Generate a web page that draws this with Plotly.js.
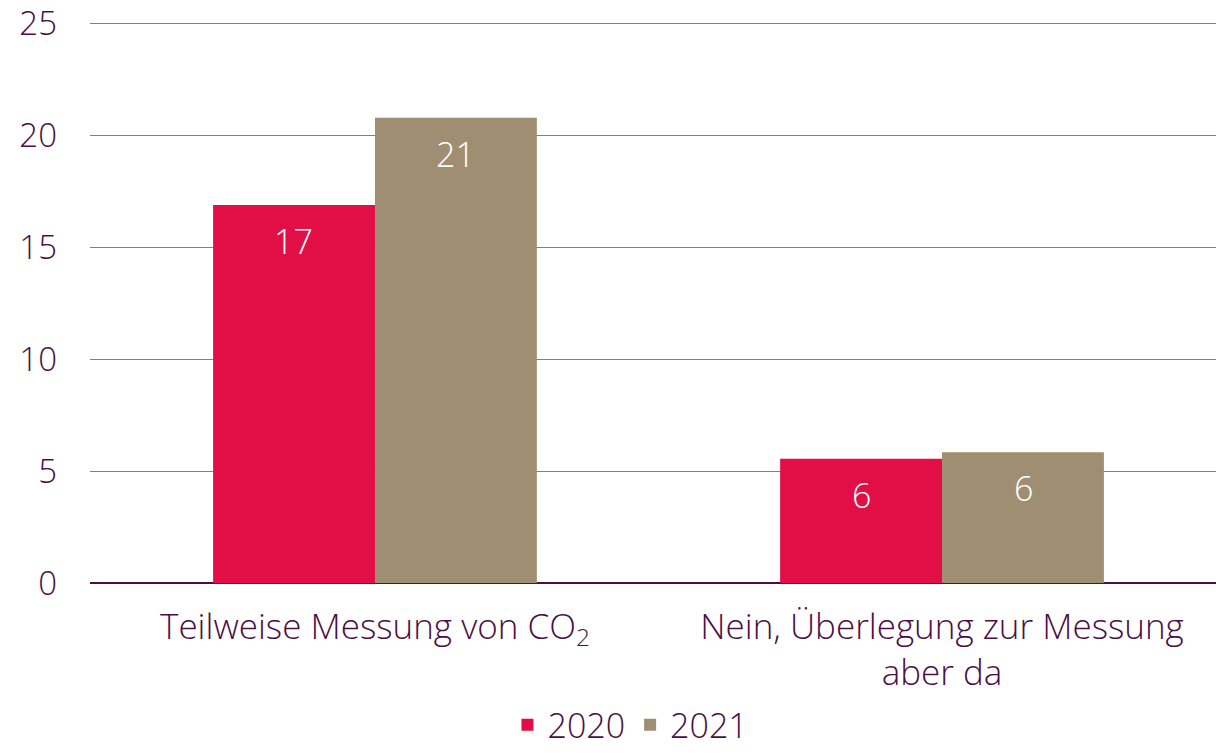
<!DOCTYPE html>
<html><head><meta charset="utf-8">
<script src="https://cdn.plot.ly/plotly-3.0.1.min.js"></script>
<style>html,body{margin:0;padding:0;background:#fff}#c{width:1216px;height:755px}</style>
</head><body><div id="c"></div>
<script>
const categories = ["Teilweise Messung von CO<sub>2</sub>", "Nein, Überlegung zur Messung<br>aber da"];
const series2020 = [16.9, 5.55];
const series2021 = [20.8, 5.85];
const labels2020 = ["17", "6"];
const labels2021 = ["21", "6"];
const seriesNames = ["2020", "2021"];
const yTicks = [0, 5, 10, 15, 20, 25];

const textColor = "#4B0F45";
const font = "'Open Sans', 'Noto Sans', sans-serif";

const traces = [
  {type: "bar", name: seriesNames[0], x: categories, y: series2020, marker: {color: "#E10F45"}, hoverinfo: "none"},
  {type: "bar", name: seriesNames[1], x: categories, y: series2021, marker: {color: "#A08E72"}, hoverinfo: "none"}
];

const annotations = [];
[[series2020, labels2020, -81], [series2021, labels2021, 81]].forEach(([vals, labs, shift]) => {
  vals.forEach((v, i) => annotations.push({
    x: categories[i], y: v, xref: "x", yref: "y", text: labs[i], showarrow: false,
    xshift: shift, yshift: -36, font: {color: "#ffffff", size: 34, family: font, weight: 300}
  }));
});

const layout = {
  width: 1216, height: 755,
  margin: {l: 90, r: 0, t: 17, b: 172, autoexpand: false},
  paper_bgcolor: "#fff", plot_bgcolor: "#fff",
  font: {family: font, color: textColor, size: 34, weight: 300},
  barmode: "group", bargap: 0.429, bargroupgap: 0,
  showlegend: true,
  legend: {orientation: "h", x: 0.48, xanchor: "center", y: -0.2, yanchor: "top",
           font: {size: 34, color: textColor, weight: 300}, itemwidth: 30, traceorder: "normal"},
  xaxis: {range: [-0.5026, 1.4832], tickfont: {size: 35, color: textColor, weight: 300}, showgrid: false, zeroline: false,
          showline: false, ticks: "", ticklabelstandoff: 20, automargin: false},
  yaxis: {range: [0, 25.3], tickvals: yTicks, tickfont: {size: 33, color: textColor, weight: 300}, gridcolor: "#9A6E96", gridwidth: 1.2,
          zeroline: true, zerolinecolor: "#4B0F45", zerolinewidth: 1.5, showline: false, ticks: "", ticklabelstandoff: 32, automargin: false},
  annotations: annotations
};
Plotly.newPlot("c", traces, layout, {displayModeBar: false, staticPlot: true});
</script></body></html>
